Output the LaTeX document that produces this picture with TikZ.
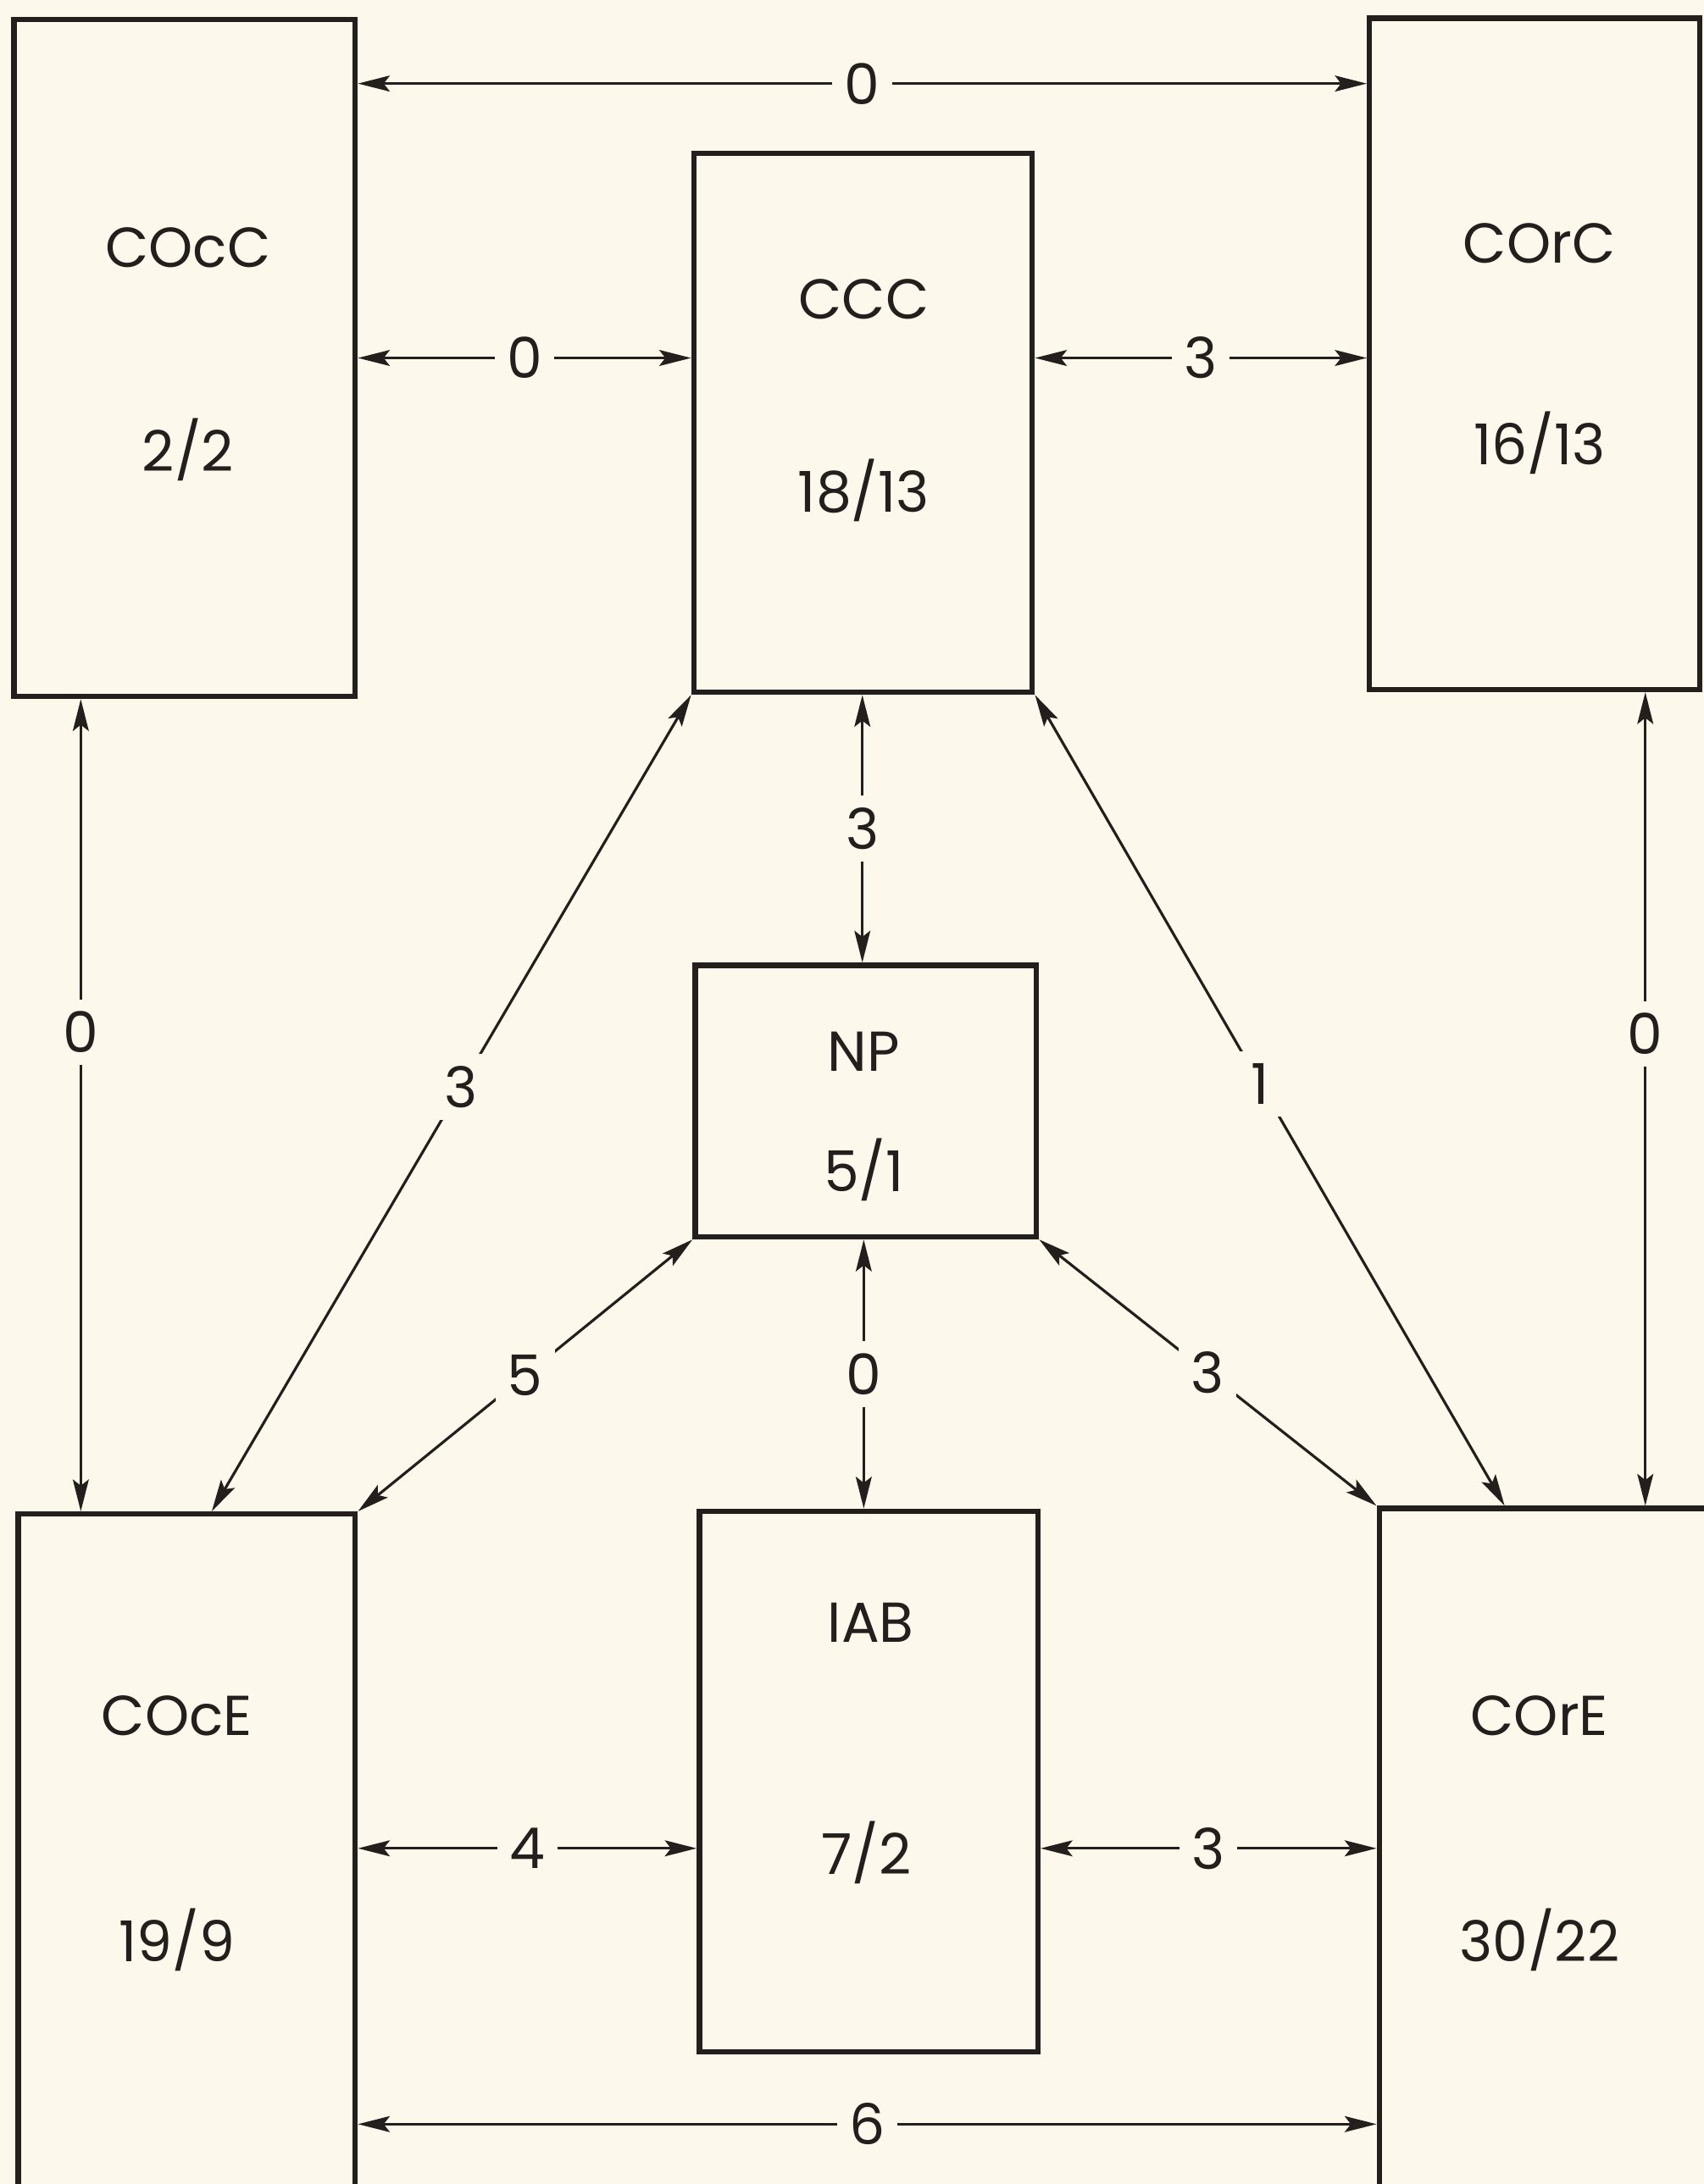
\documentclass[tikz,border=0pt]{standalone}
\usepackage{fontspec}
\setmainfont{Poppins}
\usetikzlibrary{arrows.meta,calc}
\definecolor{bg}{HTML}{FDF8EC}
\definecolor{ink}{HTML}{231F1C}
\tikzset{
  box/.style={draw=ink,line width=2.2pt,fill=none,inner sep=0pt},
  txt/.style={text=ink,font=\fontsize{23}{25}\selectfont,inner sep=0pt},
  lab/.style={text=ink,font=\fontsize{23}{25}\selectfont,fill=bg,inner sep=5pt},
  conn/.style={draw=ink,line width=1.1pt,{Stealth[length=13pt,width=6.5pt,inset=2.5pt]}-{Stealth[length=13pt,width=6.5pt,inset=2.5pt]}},
}
\begin{document}
\begin{tikzpicture}[x=0.02cm,y=-0.02cm]
\fill[bg] (0,0) rectangle (1223,1568);
\useasboundingbox (0,0) rectangle (1223,1568);
\clip (0,0) rectangle (1223,1568);
% boxes
\node[box,minimum width=245*0.02cm,minimum height=486*0.02cm] (COcC) at (132.5,257) {};
\node[box,minimum width=243*0.02cm,minimum height=387*0.02cm] (CCC) at (619.5,303.5) {};
\node[box,minimum width=237*0.02cm,minimum height=482*0.02cm] (COrC) at (1101.5,254) {};
\node[box,minimum width=245*0.02cm,minimum height=195*0.02cm] (NP) at (621.5,790.5) {};
\node[box,minimum width=242*0.02cm,minimum height=500*0.02cm] (COcE) at (134,1337) {};
\node[box,minimum width=243*0.02cm,minimum height=388*0.02cm] (IAB) at (623.5,1279) {};
\node[box,minimum width=240*0.02cm,minimum height=505*0.02cm] (COrE) at (1110,1335.5) {};
% texts
\node[txt] (t1) at (135,178) {COcC};
\node[txt] (t2) at (135,323) {2/2};
\node[txt] (t3) at (620,215) {CCC};
\node[txt] (t4) at (620,352) {18/13};
\node[txt] (t5) at (1105,175) {COrC};
\node[txt] (t6) at (1105,318) {16/13};
\node[txt] (t7) at (620,755) {NP};
\node[txt] (t8) at (620,840) {5/1};
\node[txt] (t9) at (127,1232) {COcE};
\node[txt] (t10) at (127,1393) {19/9};
\node[txt] (t11) at (625,1165) {IAB};
\node[txt] (t12) at (622,1330) {7/2};
\node[txt] (t13) at (1105,1232) {COrE};
\node[txt] (t14) at (1105,1393) {30/22};
% connectors
\draw[conn] (COcC.east |- 0,60) -- node[lab] {0} (COrC.west |- 0,60);
\draw[conn] (COcC.east |- 0,257) -- node[lab,pos=0.5] {0} (CCC.west |- 0,257);
\draw[conn] (CCC.east |- 0,257) -- node[lab] {3} (COrC.west |- 0,257);
\draw[conn] (COcC.south -| 58,0) -- node[lab,pos=0.41] {0} (COcE.north -| 58,0);
\draw[conn] (COrC.south -| 1181,0) -- node[lab,pos=0.42] {0} (COrE.north -| 1181,0);
\draw[conn] (CCC.south -| 619,0) -- node[lab] {3} (NP.north -| 619,0);
\draw[conn] (CCC.south west) -- node[lab,pos=0.48] {3} (COcE.north -| 152,0);
\draw[conn] (CCC.south east) -- node[lab,pos=0.48] {1} (COrE.north -| 1080,0);
\draw[conn] (NP.south west) -- node[lab] {5} (COcE.north east);
\draw[conn] (NP.south -| 620,0) -- node[lab] {0} (IAB.north -| 620,0);
\draw[conn] (NP.south east) -- node[lab] {3} (COrE.north west);
\draw[conn] (COcE.east |- 0,1327) -- node[lab] {4} (IAB.west |- 0,1327);
\draw[conn] (IAB.east |- 0,1327) -- node[lab] {3} (COrE.west |- 0,1327);
\draw[conn] (COcE.east |- 0,1525) -- node[lab] {6} (COrE.west |- 0,1525);
\end{tikzpicture}
\end{document}
